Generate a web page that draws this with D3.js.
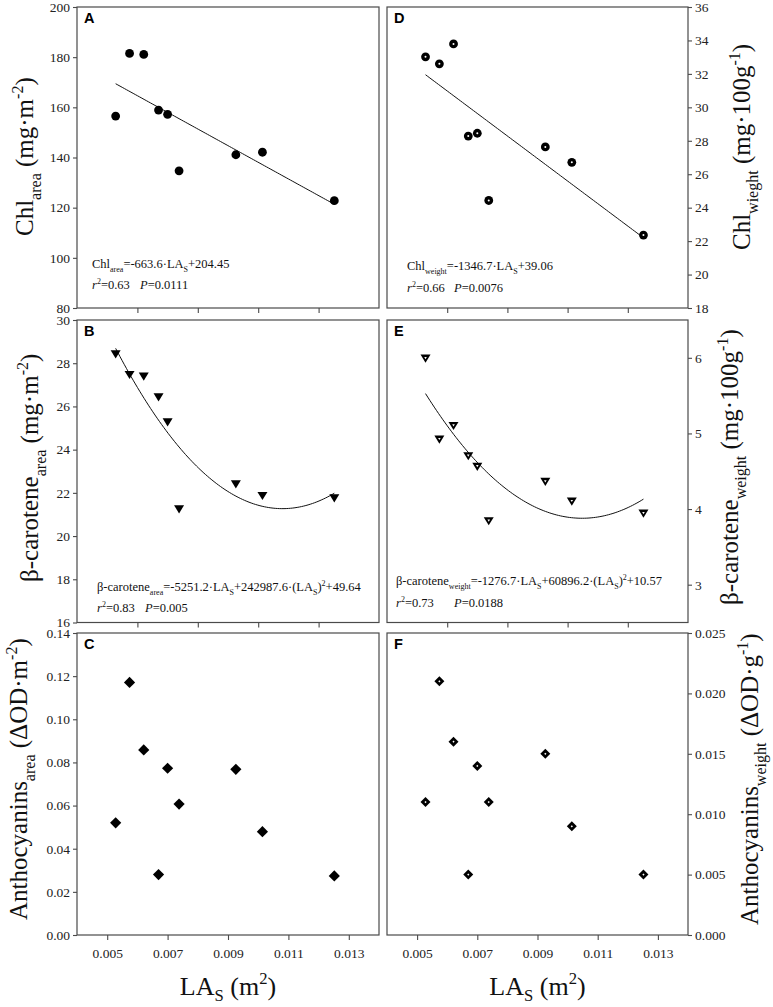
<!DOCTYPE html>
<html><head><meta charset="utf-8">
<script src="https://cdn.jsdelivr.net/npm/d3@7"></script>
<style>body{margin:0;background:#fff}svg{display:block}text{white-space:pre}</style>
</head><body><svg id="c" width="773" height="1007"></svg>
<script>
// ---- data ----
const las = [0.00528, 0.00574, 0.00621, 0.00670, 0.00700, 0.00738, 0.00926, 0.01014, 0.01252];
const chlArea = [156.5, 181.5, 181.1, 158.9, 157.2, 134.7, 141.1, 142.1, 122.8];
const betaArea = [28.41, 27.46, 27.38, 26.42, 25.27, 21.24, 22.40, 21.86, 21.75];
const anthoArea = [0.0520, 0.1171, 0.0858, 0.0280, 0.0773, 0.0607, 0.0768, 0.0479, 0.0274];
const chlWeight = [33.02, 32.60, 33.79, 28.28, 28.45, 24.43, 27.63, 26.71, 22.36];
const betaWeight = [5.99, 4.92, 5.10, 4.70, 4.56, 3.84, 4.36, 4.10, 3.94];
const anthoWeight = [0.011, 0.021, 0.016, 0.005, 0.014, 0.011, 0.015, 0.009, 0.005];
// fit coefficients [intercept, linear, quadratic]
const fitChlArea = [204.45, -6636, 0];
const fitChlWeight = [39.06, -1346.7, 0];
const fitBetaArea = [49.64, -5251.2, 242987.6];
const fitBetaWeight = [10.57, -1276.7, 60896.2];
// tick values
const xTicksTop = [0.006, 0.008, 0.010, 0.012];
const xTicksBottom = [0.005, 0.007, 0.009, 0.011, 0.013];
const yTicksA = [80, 100, 120, 140, 160, 180, 200];
const yTicksB = [16, 18, 20, 22, 24, 26, 28, 30];
const yTicksC = [0, 0.02, 0.04, 0.06, 0.08, 0.10, 0.12, 0.14];
const yTicksD = [18, 20, 22, 24, 26, 28, 30, 32, 34, 36];
const yTicksE = [3, 4, 5, 6];
const yTicksF = [0, 0.005, 0.010, 0.015, 0.020, 0.025];

const svg = d3.select('#c');
const SERIF = "'Liberation Serif','Times New Roman',serif";
const SANS = "'Liberation Sans',Arial,sans-serif";
const FRAME = '#4a4a4a';

const cols = {L: [77, 379], R: [387, 688]};
const rows = [[7, 308], [320, 622.5], [633, 935]];

function rich(sel, parts, size, subShift) {
  let shift = 0;
  const ss = subShift == null ? 0.3 : subShift;
  parts.forEach(p => {
    const [txt, kind, ital] = p;
    const target = kind === 'sub' ? size * ss : kind === 'sup' ? -size * 0.42 : 0;
    const ts = sel.append('tspan').text(txt).attr('dy', target - shift)
      .attr('font-size', kind ? size * 0.64 : size);
    if (ital) ts.attr('font-style', 'italic');
    shift = target;
  });
}

function panel(cfg) {
  const [x0, x1] = cols[cfg.col];
  const [y0, y1] = rows[cfg.row];
  const x = d3.scaleLinear([0.004, 0.014], [x0, x1]);
  const y = d3.scaleLinear(cfg.ydom, [y1, y0]);
  const g = svg.append('g');

  g.append('rect').attr('x', x0).attr('y', y0).attr('width', x1 - x0).attr('height', y1 - y0)
    .attr('fill', 'none').attr('stroke', FRAME).attr('stroke-width', 1.2);

  const xb = cfg.row === 2;
  const xa = d3.axisBottom(x).tickValues(xb ? xTicksBottom : xTicksTop).tickSize(5).tickPadding(8)
    .tickFormat(xb ? d3.format('.3f') : () => '');
  const gx = g.append('g').attr('transform', `translate(0,${y1})`).call(xa);
  gx.select('.domain').remove();
  gx.selectAll('line').attr('stroke', FRAME).attr('stroke-width', 1.1);
  gx.selectAll('text').attr('font-family', SERIF).attr('font-size', 13.5).attr('fill', '#222');

  const ya = (cfg.col === 'L' ? d3.axisLeft(y) : d3.axisRight(y)).tickValues(cfg.yticks)
    .tickSize(4).tickPadding(3).tickFormat(cfg.yfmt);
  const gy = g.append('g').attr('transform', `translate(${cfg.col === 'L' ? x0 : x1},0)`).call(ya);
  gy.select('.domain').remove();
  gy.selectAll('line').attr('stroke', FRAME).attr('stroke-width', 1.1);
  gy.selectAll('text').attr('font-family', SERIF).attr('font-size', 13.5).attr('fill', '#222');

  g.append('text').attr('x', x0 + 7).attr('y', y0 + 16).attr('font-family', SANS)
    .attr('font-weight', 'bold').attr('font-size', 14.5).text(cfg.letter);

  if (cfg.fit) {
    const [a, b, c] = cfg.fit;
    const xs = d3.range(0, 101).map(i => d3.min(las) + (d3.max(las) - d3.min(las)) * i / 100);
    const line = d3.line().x(d => x(d)).y(d => y(a + b * d + c * d * d));
    g.append('path').attr('d', line(xs)).attr('fill', 'none').attr('stroke', '#111').attr('stroke-width', 1);
  }

  const pts = las.map((v, i) => [x(v), y(cfg.values[i])]);
  const m = g.append('g');
  pts.forEach(([px, py]) => {
    const t = m.append('g').attr('transform', `translate(${px},${py})`);
    if (cfg.marker === 'circle') {
      t.append('circle').attr('r', 4.4).attr('fill', '#000');
    } else if (cfg.marker === 'circleDot') {
      t.append('circle').attr('r', 4.4).attr('fill', '#000');
      t.append('circle').attr('r', 1.0).attr('fill', '#fff');
    } else if (cfg.marker === 'tri') {
      t.append('path').attr('d', 'M-5,-4L5,-4L0,4.2Z').attr('fill', '#000');
    } else if (cfg.marker === 'triDot') {
      t.append('path').attr('d', 'M-5,-4L5,-4L0,4.2Z').attr('fill', '#000');
      t.append('path').attr('d', 'M-1.3,-1.6L1.3,-1.6L0,0.6Z').attr('fill', '#fff');
    } else if (cfg.marker === 'diamond') {
      t.append('path').attr('d', 'M0,-5.6L5.6,0L0,5.6L-5.6,0Z').attr('fill', '#000');
    } else if (cfg.marker === 'diamondDot') {
      t.append('path').attr('d', 'M0,-5L5,0L0,5L-5,0Z').attr('fill', '#000');
      t.append('path').attr('d', 'M0,-1.1L1.1,0L0,1.1L-1.1,0Z').attr('fill', '#fff');
    }
  });

  if (cfg.eq) {
    const fs = 12.5;
    const e1 = g.append('text').attr('x', cfg.eq.x).attr('y', cfg.eq.y1)
      .attr('font-family', SERIF).attr('font-size', fs).attr('fill', '#111');
    rich(e1, cfg.eq.line1, fs);
    const e2 = g.append('text').attr('y', cfg.eq.y2)
      .attr('font-family', SERIF).attr('font-size', fs).attr('fill', '#111');
    e2.append('tspan').attr('x', cfg.eq.x).text('r').attr('font-style', 'italic');
    e2.append('tspan').text('2').attr('font-size', 8).attr('dy', -5);
    e2.append('tspan').text(cfg.eq.r2).attr('dy', 5);
    e2.append('tspan').attr('x', cfg.eq.px).text('P').attr('font-style', 'italic');
    e2.append('tspan').text(cfg.eq.p);
  }

  const yt = svg.append('text')
    .attr('transform', `translate(${cfg.title.x},${cfg.title.y}) rotate(-90)`)
    .attr('font-family', SERIF).attr('font-size', 25).attr('fill', '#111');
  rich(yt, cfg.title.parts, 25);

  return x;
}

panel({col: 'L', row: 0, letter: 'A', ydom: [80, 200], yticks: yTicksA, yfmt: d3.format('d'),
  values: chlArea, marker: 'circle', fit: fitChlArea,
  eq: {x: 92, y1: 268, y2: 289, px: 140,
    line1: [['Chl'], ['area', 'sub'], ['=-663.6·LA'], ['S', 'sub'], ['+204.45']],
    r2: '=0.63', p: '=0.0111'},
  title: {x: 33, y: 236, parts: [['Chl'], ['area', 'sub'], [' ('], ['mg·m'], ['-2', 'sup'], [')']]}});

panel({col: 'L', row: 1, letter: 'B', ydom: [16, 30], yticks: yTicksB, yfmt: d3.format('d'),
  values: betaArea, marker: 'tri', fit: fitBetaArea,
  eq: {x: 97, y1: 591, y2: 612, px: 145,
    line1: [['β-carotene'], ['area', 'sub'], ['=-5251.2·LA'], ['S', 'sub'], ['+242987.6·(LA'], ['S', 'sub'], [')'], ['2', 'sup'], ['+49.64']],
    r2: '=0.83', p: '=0.005'},
  title: {x: 38, y: 582, parts: [['β-carotene'], ['area', 'sub'], [' ('], ['mg·m'], ['-2', 'sup'], [')']]}});

panel({col: 'L', row: 2, letter: 'C', ydom: [0, 0.14], yticks: yTicksC, yfmt: d3.format('.2f'),
  values: anthoArea, marker: 'diamond',
  title: {x: 27, y: 920, parts: [['Anthocyanins'], ['area', 'sub'], [' ('], ['ΔOD·m'], ['-2', 'sup'], [')']]}});

panel({col: 'R', row: 0, letter: 'D', ydom: [18, 36], yticks: yTicksD, yfmt: d3.format('d'),
  values: chlWeight, marker: 'circleDot', fit: fitChlWeight,
  eq: {x: 407, y1: 270, y2: 292, px: 454,
    line1: [['Chl'], ['weight', 'sub'], ['=-1346.7·LA'], ['S', 'sub'], ['+39.06']],
    r2: '=0.66', p: '=0.0076'},
  title: {x: 750, y: 250, parts: [['Chl'], ['wieght', 'sub'], [' ('], ['mg·100g'], ['-1', 'sup'], [')']]}});

panel({col: 'R', row: 1, letter: 'E', ydom: [2.5, 6.5], yticks: yTicksE, yfmt: d3.format('d'),
  values: betaWeight, marker: 'triDot', fit: fitBetaWeight,
  eq: {x: 396, y1: 585, y2: 607, px: 454,
    line1: [['β-carotene'], ['weight', 'sub'], ['=-1276.7·LA'], ['S', 'sub'], ['+60896.2·(LA'], ['S', 'sub'], [')'], ['2', 'sup'], ['+10.57']],
    r2: '=0.73', p: '=0.0188'},
  title: {x: 738, y: 605, parts: [['β-carotene'], ['weight', 'sub'], [' ('], ['mg·100g'], ['-1', 'sup'], [')']]}});

panel({col: 'R', row: 2, letter: 'F', ydom: [0, 0.025], yticks: yTicksF, yfmt: d3.format('.3f'),
  values: anthoWeight, marker: 'diamondDot',
  title: {x: 758, y: 925, parts: [['Anthocyanins'], ['weight', 'sub'], [' ('], ['ΔOD·g'], ['-1', 'sup'], [')']]}});

[cols.L, cols.R].forEach(c => {
  const t = svg.append('text').attr('x', (c[0] + c[1]) / 2).attr('y', 995)
    .attr('text-anchor', 'middle').attr('font-family', SERIF).attr('font-size', 26).attr('fill', '#111');
  rich(t, [['LA'], ['S', 'sub'], [' ('], ['m'], ['2', 'sup'], [')']], 26, 0.22);
});
</script></body></html>
